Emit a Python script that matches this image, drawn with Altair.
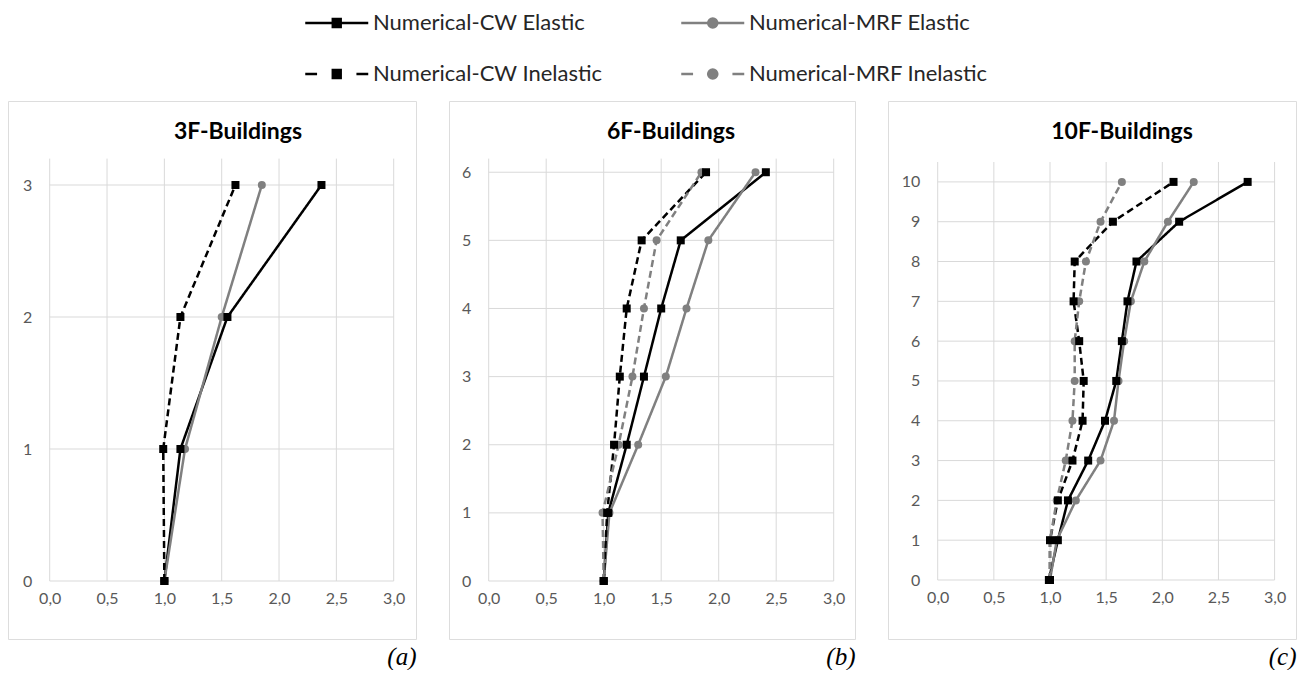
import altair as alt
import pandas as pd

# ---------------- data ----------------
series_names = ["Numerical-CW Elastic", "Numerical-MRF Elastic",
                "Numerical-CW Inelastic", "Numerical-MRF Inelastic"]
series_kind = ["CW", "MRF", "CW", "MRF"]
series_style = ["Elastic", "Elastic", "Inelastic", "Inelastic"]
series_colors = ["#000000", "#808080", "#000000", "#808080"]
style_names = ["Elastic", "Inelastic"]
style_dash = [[1, 0], [7, 4]]

x_ticks = [0.0, 0.5, 1.0, 1.5, 2.0, 2.5, 3.0]

floors_3 = [0, 1, 2, 3]
f3_cw_el = [1.00, 1.14, 1.55, 2.37]
f3_mrf_el = [1.00, 1.18, 1.50, 1.85]
f3_cw_inel = [1.00, 0.99, 1.14, 1.62]

floors_6 = [0, 1, 2, 3, 4, 5, 6]
f6_cw_el = [1.00, 1.04, 1.20, 1.35, 1.50, 1.67, 2.41]
f6_mrf_el = [1.00, 1.05, 1.30, 1.54, 1.72, 1.91, 2.32]
f6_cw_inel = [1.00, 1.03, 1.09, 1.14, 1.20, 1.33, 1.89]
f6_mrf_inel = [1.00, 0.99, 1.13, 1.25, 1.35, 1.46, 1.85]

floors_10 = [0, 1, 2, 3, 4, 5, 6, 7, 8, 9, 10]
f10_cw_el = [0.99, 1.07, 1.16, 1.34, 1.49, 1.59, 1.64, 1.69, 1.77, 2.15, 2.76]
f10_mrf_el = [1.00, 1.06, 1.23, 1.45, 1.57, 1.61, 1.66, 1.72, 1.84, 2.05, 2.28]
f10_cw_inel = [1.00, 1.00, 1.07, 1.20, 1.29, 1.30, 1.26, 1.21, 1.22, 1.56, 2.10]
f10_mrf_inel = [1.00, 1.00, 1.06, 1.14, 1.20, 1.22, 1.22, 1.26, 1.32, 1.45, 1.64]

panel_series = {
    "3F": (floors_3, {series_names[0]: f3_cw_el, series_names[1]: f3_mrf_el,
                      series_names[2]: f3_cw_inel}),
    "6F": (floors_6, {series_names[0]: f6_cw_el, series_names[1]: f6_mrf_el,
                      series_names[2]: f6_cw_inel, series_names[3]: f6_mrf_inel}),
    "10F": (floors_10, {series_names[0]: f10_cw_el, series_names[1]: f10_mrf_el,
                        series_names[2]: f10_cw_inel, series_names[3]: f10_mrf_inel}),
}

rows = []
for key, (floors, sers) in panel_series.items():
    for name, vals in sers.items():
        i = series_names.index(name)
        for fl, v in zip(floors, vals):
            rows.append({"panel": key, "series": name, "kind": series_kind[i],
                         "style": series_style[i], "floor": fl, "ratio": v})
df = pd.DataFrame(rows)

# ---------------- styling ----------------
GRID = "#d9d9d9"
FONT = "Lato"

# legend symbols: line + marker drawn as custom paths
SQ = "M0.75,-0.25H1.25V0.25H0.75Z"
CI = "M1.29,0A0.29,0.29,0,1,1,0.71,0A0.29,0.29,0,1,1,1.29,0Z"
legend_paths = ["M-1,0H3" + SQ, "M-1,0H3" + CI,
                "M-1,0H-0.25M2.25,0H3" + SQ, "M-1,0H-0.25M2.25,0H3" + CI]

color_scale = alt.Scale(domain=series_names, range=series_colors)
dash_scale = alt.Scale(domain=style_names, range=style_dash)

legend = alt.Legend(title=None, orient="none", legendX=296, legendY=5,
                    columns=2, direction="horizontal", columnPadding=73, rowPadding=23,
                    symbolSize=992, symbolStrokeWidth=2.5,
                    labelFont=FONT, labelFontSize=22, labelColor="#262626",
                    labelOffset=35, labelLimit=500, padding=0)


def panel(key, title, ymax, yticks, box_w, box_h, ml, mr, mt, mb, title_dx, letter):
    d = df[df.panel == key]
    plot_w = box_w - ml - mr
    plot_h = box_h - mt - mb
    ux = 3.0 / plot_w
    uy = ymax / plot_h
    xs = alt.Scale(domain=[-ml * ux, 3.0 + mr * ux], nice=False, zero=False)
    ys = alt.Scale(domain=[-mb * uy, ymax + mt * uy], nice=False, zero=False)
    xaxis = alt.Axis(values=x_ticks, offset=-mb, domain=False, ticks=False, grid=False,
                     labelExpr="replace(format(datum.value, '.1f'), '.', ',')",
                     labelFont=FONT, labelFontSize=16, labelColor="#595959",
                     labelPadding=9, title=None, labelFlush=False)
    yaxis = alt.Axis(values=yticks, offset=-ml, domain=False, ticks=False, grid=False,
                     format="d", labelFont=FONT, labelFontSize=16, labelColor="#595959",
                     labelPadding=18, title=None)

    vgrid = alt.Chart(pd.DataFrame({"t": x_ticks})).mark_rule(color=GRID, strokeWidth=1).encode(
        x=alt.X("t:Q", scale=xs, axis=xaxis),
        y=alt.Y(datum=0, scale=ys, axis=yaxis),
        y2=alt.Y2(datum=ymax))
    hgrid = alt.Chart(pd.DataFrame({"t": yticks})).mark_rule(color=GRID, strokeWidth=1).encode(
        y=alt.Y("t:Q", scale=ys, axis=yaxis),
        x=alt.X(datum=0, scale=xs, axis=xaxis),
        x2=alt.X2(datum=3.0))

    xe = alt.X("ratio:Q", scale=xs, axis=xaxis)
    ye = alt.Y("floor:Q", scale=ys, axis=yaxis)
    ce = alt.Color("series:N", scale=color_scale, legend=None)

    lines = alt.Chart(d).mark_line(strokeWidth=2.5, opacity=1).encode(
        x=xe, y=ye, color=ce,
        strokeDash=alt.StrokeDash("style:N", scale=dash_scale, legend=None),
        detail="series:N",
        order=alt.Order("floor:Q"))
    squares = alt.Chart(d).transform_filter(alt.datum.kind == "CW").mark_square(
        size=64, opacity=1).encode(x=xe, y=ye, color=ce)
    circles = alt.Chart(d).transform_filter(alt.datum.kind == "MRF").mark_circle(
        size=64, opacity=1).encode(x=xe, y=ye, color=ce)

    chart = alt.layer(vgrid, hgrid, lines, circles, squares).properties(
        width=box_w, height=box_h,
        title=alt.TitleParams(title, orient="top", anchor="middle", frame="group",
                              offset=-43, dx=title_dx, font=FONT, fontSize=23,
                              fontWeight="bold", color="#000000"))
    return alt.vconcat(chart, title=alt.TitleParams(
        letter, orient="bottom", anchor="end", font="Liberation Serif", fontStyle="italic",
        fontWeight="normal", fontSize=25, color="#000000", offset=5))


p1 = panel("3F", "3F-Buildings", 3.2, [0, 1, 2, 3], 408, 538, 41.7, 22.3, 57.6, 58, 26, "(a)")
p2 = panel("6F", "6F-Buildings", 6.2, [0, 1, 2, 3, 4, 5, 6], 406, 538, 39.7, 21.3, 57.6, 58, 19, "(b)")
p3 = panel("10F", "10F-Buildings", 10.5, list(range(11)), 408, 538, 49.7, 21.4, 61, 59, 30, "(c)")

# legend-only strip on top (no marks drawn: its data is filtered out)
legend_strip = alt.Chart(pd.DataFrame({"series": series_names})).transform_filter("false").mark_point(
    filled=True, opacity=1, size=992, strokeWidth=2.5).encode(
    fill=alt.Fill("series:N", scale=alt.Scale(domain=series_names, range=series_colors), legend=legend),
    stroke=alt.Stroke("series:N", scale=alt.Scale(domain=series_names, range=series_colors), legend=legend),
    shape=alt.Shape("series:N", scale=alt.Scale(domain=series_names, range=legend_paths), legend=legend)
).properties(width=1290, height=83, view=alt.ViewBackground(stroke="transparent"))

panels = alt.hconcat(p1, p2, p3, spacing=31)

chart = alt.vconcat(legend_strip, panels, spacing=15).properties(
    padding={"left": 7, "top": 0, "right": 0, "bottom": 0}
).configure_view(stroke=GRID, strokeWidth=1.5).configure(background="white")

chart.save("out.html", embed_options={"renderer": "svg", "actions": False})
